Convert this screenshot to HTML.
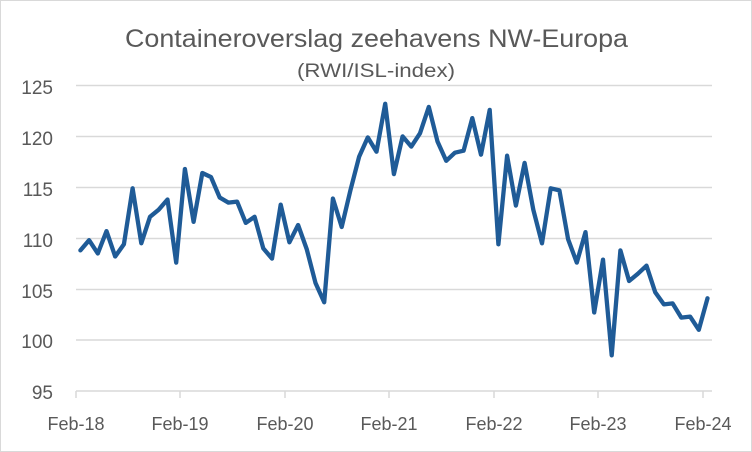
<!DOCTYPE html>
<html><head><meta charset="utf-8"><style>
html,body{margin:0;padding:0;background:#fff}
svg{display:block}
text{font-family:"Liberation Sans",sans-serif;fill:#595959}
</style></head><body>
<svg id="s" width="752" height="452" xmlns="http://www.w3.org/2000/svg">
<rect x="0.5" y="0.5" width="751" height="451" fill="#fff" stroke="#d9d9d9"/>
<text x="125" y="47" font-size="25" textLength="503" lengthAdjust="spacingAndGlyphs">Containeroverslag zeehavens NW-Europa</text>
<text x="297" y="77" font-size="19" textLength="158" lengthAdjust="spacingAndGlyphs">(RWI/ISL-index)</text>
<g stroke="#d9d9d9" stroke-width="1.5">
<line x1="76" x2="712" y1="85.5" y2="85.5"/>
<line x1="76" x2="712" y1="136.5" y2="136.5"/>
<line x1="76" x2="712" y1="187.5" y2="187.5"/>
<line x1="76" x2="712" y1="238.5" y2="238.5"/>
<line x1="76" x2="712" y1="289.5" y2="289.5"/>
<line x1="76" x2="712" y1="340" y2="340"/>
<line x1="76" x2="712" y1="391" y2="391"/>
<line x1="76" x2="76" y1="391" y2="398"/>
<line x1="180" x2="180" y1="391" y2="398"/>
<line x1="285" x2="285" y1="391" y2="398"/>
<line x1="389" x2="389" y1="391" y2="398"/>
<line x1="494" x2="494" y1="391" y2="398"/>
<line x1="598" x2="598" y1="391" y2="398"/>
<line x1="703" x2="703" y1="391" y2="398"/>
</g>
<g font-size="19" text-anchor="end">
<text x="53" y="94">125</text>
<text x="53" y="145">120</text>
<text x="53" y="196">115</text>
<text x="53" y="247">110</text>
<text x="53" y="298">105</text>
<text x="53" y="348">100</text>
<text x="53" y="399">95</text>
</g>
<g font-size="18" text-anchor="middle">
<text x="76" y="430">Feb-18</text>
<text x="180" y="430">Feb-19</text>
<text x="285" y="430">Feb-20</text>
<text x="389" y="430">Feb-21</text>
<text x="494" y="430">Feb-22</text>
<text x="598" y="430">Feb-23</text>
<text x="703" y="430">Feb-24</text>
</g>
<polyline id="p" fill="none" stroke="#1f5b97" stroke-width="4.3" stroke-linejoin="round" stroke-linecap="round" points=""/>
</svg>
<script>
var d=[108.8,109.8,108.5,110.7,108.2,109.4,114.9,109.5,112.1,112.8,113.8,107.6,116.8,111.6,116.4,116,114,113.5,113.6,111.5,112.1,109,108,113.3,109.6,111.3,108.9,105.6,103.7,113.9,111.1,114.7,118,119.9,118.5,123.2,
116.3,120,119,120.3,122.9,119.5,117.6,118.4,118.6,121.8,118.2,122.6,109.4,118.1,113.2,117.4,112.8,109.5,114.9,114.7,109.9,107.6,110.6,102.7,107.9,98.5,108.8,105.8,106.5,107.3,104.7,103.5,103.6,102.2,102.3,101.0,104.1];
var pts=d.map(function(v,i){return (76+8.71*(i+0.5)).toFixed(1)+","+(85.5+(125-v)*10.18).toFixed(1)}).join(" ");
document.getElementById("p").setAttribute("points",pts);
</script>
</body></html>
